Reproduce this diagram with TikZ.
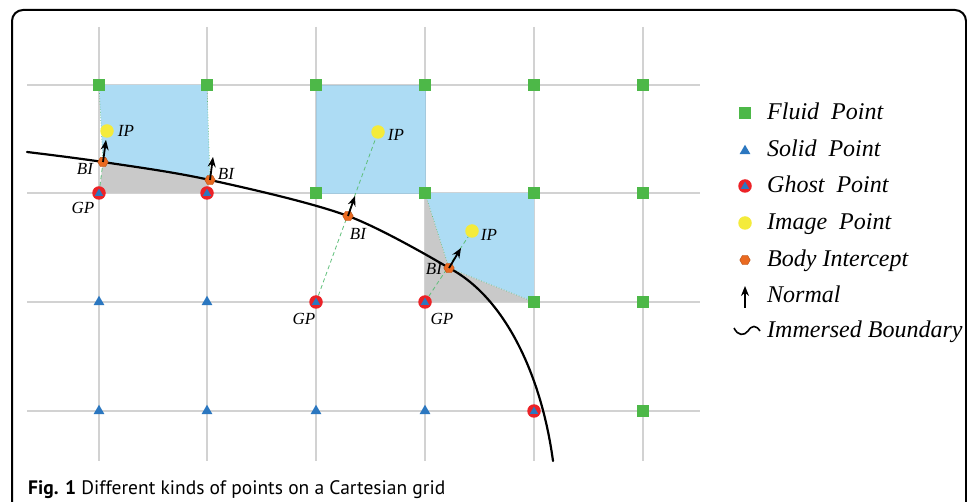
\documentclass[tikz,border=0pt]{standalone}
\usepackage{fontspec}
\setmainfont{Liberation Serif}
\newfontfamily\capfont{PT Sans}
\usepackage{tikz}
\usetikzlibrary{arrows.meta, shapes.geometric}
\definecolor{gridgray}{HTML}{D2D2D2}
\definecolor{fluidgreen}{HTML}{4DB848}
\definecolor{solidblue}{HTML}{2B77C0}
\definecolor{ghostred}{HTML}{EC2227}
\definecolor{imageyellow}{HTML}{F4EB3B}
\definecolor{bodyorange}{HTML}{EA6A20}
\definecolor{cellblue}{HTML}{ADDCF4}
\definecolor{cellgray}{HTML}{C9C9C9}
\definecolor{guidegreen}{HTML}{5FBF7A}

\begin{document}
\begin{tikzpicture}[x=1pt, y=-1pt,
        fluid/.style={rectangle, fill=fluidgreen, minimum size=12pt, inner sep=0pt},
        solidpt/.style={regular polygon, regular polygon sides=3, fill=solidblue,
            minimum size=12.5pt, inner sep=0pt},
        ghost/.style={circle, fill=ghostred, minimum size=13.5pt, inner sep=0pt,
            path picture={\fill[solidblue]
                ([xshift=-4.3pt, yshift=-3pt]path picture bounding box.center)
                -- ++(8.6pt,0pt) -- ++(-4.3pt,7.4pt) -- cycle;}},
        imagept/.style={circle, fill=imageyellow, minimum size=13.5pt, inner sep=0pt},
        bodyint/.style={regular polygon, regular polygon sides=6, fill=bodyorange,
            draw=bodyorange!75!black, line width=0.4pt, minimum size=10.5pt, inner sep=0pt},
        ptlabel/.style={font=\fontsize{17}{19}\selectfont\itshape, inner sep=0pt},
        legend/.style={anchor=base west, font=\fontsize{24}{28}\selectfont\itshape, inner sep=0pt},
        gridline/.style={draw=gridgray, line width=1.4pt},
        normalarrow/.style={-{Stealth[length=10pt, width=8pt]}, line width=1.8pt},
        guide/.style={draw=guidegreen, dash pattern=on 4pt off 3pt, line width=0.8pt},
        celledge/.style={draw=guidegreen, dotted, line width=0.7pt},
        boundary/.style={line width=2.2pt, line cap=round},
        frame/.style={line width=2pt, rounded corners=11pt}
    ]
    \useasboundingbox (0,0) rectangle (967,502);
    \begin{scope}
        \clip (0,0) rectangle (967,502);
        \draw[frame] (12,540) -- (12,10) -- (966,10) -- (966,540);
    \end{scope}

    \foreach \y in {85,193,302,411}
        \draw[gridline] (27,\y) -- (700,\y);
    \foreach \x in {99,207,316,425,534,643}
        \draw[gridline] (\x,27) -- (\x,461);

    \coordinate (b1) at (103,162);
    \coordinate (b2) at (210,180);
    \coordinate (b3) at (348,216);
    \coordinate (b4) at (449,268);
    \coordinate (bend) at (553,461);

    % cells around the boundary
    \fill[cellblue] (99,85) -- (207,85) -- (b2) -- (b1) -- cycle;
    \fill[cellgray] (b1) -- (b2) -- (207,193) -- (99,193) -- cycle;
    \fill[cellblue, draw=cellblue!80!gray, line width=0.6pt] (316,85) rectangle (425,193);
    \fill[cellblue] (425,193) -- (534,193) -- (534,302) -- (b4) -- cycle;
    \fill[cellgray] (425,193) -- (b4) -- (534,302) -- (425,302) -- cycle;
    \draw[celledge] (99,85) -- (b1);
    \draw[celledge] (207,85) -- (b2);
    \draw[celledge] (425,193) -- (b4) -- (534,302);

    \draw[boundary] plot[smooth, tension=0.55] coordinates
        {(27,152) (b1) (b2) (b3) (b4)}
        .. controls (503,296) and (541,372) .. (bend);

    \node[fluid] (f1) at (99,85) {};
    \node[fluid] (f2) at (207,85) {};
    \node[fluid] (f3) at (316,85) {};
    \node[fluid] (f4) at (425,85) {};
    \node[fluid] (f5) at (534,85) {};
    \node[fluid] (f6) at (643,85) {};
    \node[fluid] (f7) at (316,193) {};
    \node[fluid] (f8) at (425,193) {};
    \node[fluid] (f9) at (534,193) {};
    \node[fluid] (f10) at (643,193) {};
    \node[fluid] (f11) at (534,302) {};
    \node[fluid] (f12) at (643,302) {};
    \node[fluid] (f13) at (643,411) {};

    \node[solidpt] (s1) at (99,302) {};
    \node[solidpt] (s2) at (207,302) {};
    \node[solidpt] (s3) at (99,411) {};
    \node[solidpt] (s4) at (207,411) {};
    \node[solidpt] (s5) at (316,411) {};
    \node[solidpt] (s6) at (425,411) {};

    \node[imagept] (ip1) at (107,131) {};
    \node[imagept] (ip2) at (378,132) {};
    \node[imagept] (ip3) at (472,231) {};

    \draw[guide] (99,193) -- (ip1);
    \draw[guide] (316,302) -- (ip2);
    \draw[guide] (425,302) -- (ip3);

    \node[ghost] (gp1) at (99,193) {};
    \node[ghost] (gp2) at (207,193) {};
    \node[ghost] (gp3) at (316,302) {};
    \node[ghost] (gp4) at (425,302) {};
    \node[ghost] (gp5) at (534,411) {};

    \node[bodyint] (bi1) at (b1) {};
    \node[bodyint] (bi2) at (b2) {};
    \node[bodyint] (bi3) at (b3) {};
    \node[bodyint] (bi4) at (b4) {};

    \coordinate (n1) at (106,140);
    \coordinate (n2) at (213,157);
    \coordinate (n3) at (355,196);
    \coordinate (n4) at (461,248);
    \draw[normalarrow] (bi1.center) -- (n1);
    \draw[normalarrow] (bi2.center) -- (n2);
    \draw[normalarrow] (bi3.center) -- (n3);
    \draw[normalarrow] (bi4.center) -- (n4);

    \node[ptlabel] at (126,131) {IP};
    \node[ptlabel] at (85,169) {BI};
    \node[ptlabel] at (83,208) {GP};
    \node[ptlabel] at (226,174) {BI};
    \node[ptlabel] at (396,135) {IP};
    \node[ptlabel] at (358,234) {BI};
    \node[ptlabel] at (304,319) {GP};
    \node[ptlabel] at (489,235) {IP};
    \node[ptlabel] at (434,269) {BI};
    \node[ptlabel] at (442,319) {GP};

    % legend
    \node[fluid] (lfluid) at (745,113) {};
    \node[legend] at (767,120) {Fluid\ \ Point};
    \node[solidpt] (lsolid) at (745,151) {};
    \node[legend] at (767,157) {Solid\ \ Point};
    \node[ghost] (lghost) at (745,186) {};
    \node[legend] at (767,193) {Ghost\ \ Point};
    \node[imagept] (limage) at (745,223) {};
    \node[legend] at (767,230) {Image\ \ Point};
    \node[bodyint] (lbody) at (745,260) {};
    \node[legend] at (767,267) {Body Intercept};
    \coordinate (lnormal0) at (745,308);
    \coordinate (lnormal1) at (745,286);
    \draw[normalarrow] (lnormal0) -- (lnormal1);
    \node[legend] at (767,303) {Normal};
    \draw[line width=1.6pt] (734,328) .. controls (738,336) and (744,336) .. (748,331)
        .. controls (752,325) and (756,325) .. (760,331);
    \node[legend] at (767,338) {Immersed Boundary};

    \node[anchor=base west, inner sep=0pt, font=\capfont\fontsize{19.5}{22}\selectfont]
        (caption) at (28,494) {\textbf{Fig. 1} Different kinds of points on a Cartesian grid};
\end{tikzpicture}
\end{document}
